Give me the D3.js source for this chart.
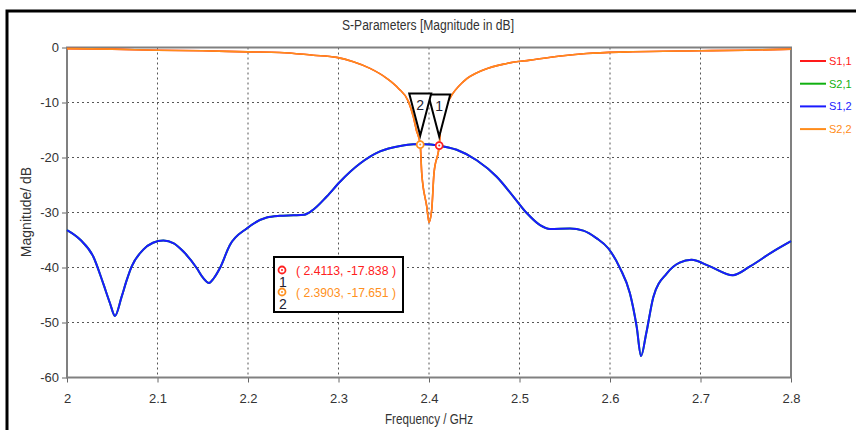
<!DOCTYPE html>
<html>
<head>
<meta charset="utf-8">
<script src="https://cdn.jsdelivr.net/npm/d3@7"></script>
<style>
  body { margin: 0; background: #fff; }
  svg { display: block; }
</style>
</head>
<body>
<svg id="chart"></svg>
<script>
// S1,2 (blue) - S2,1 lies underneath it
const s12Freq = [2.000, 2.015, 2.029, 2.040, 2.0475, 2.053, 2.0604, 2.066, 2.0715, 2.084, 2.095, 2.1065,
  2.118, 2.1286, 2.1433, 2.150, 2.157, 2.162, 2.169, 2.180, 2.1986, 2.2207, 2.235, 2.250, 2.262,
  2.272, 2.287, 2.3017, 2.3238, 2.3459, 2.368, 2.3827, 2.395, 2.410, 2.4306, 2.4527, 2.4748,
  2.4932, 2.508, 2.5227, 2.5337, 2.5558, 2.5705, 2.5853, 2.598, 2.611, 2.622, 2.6295, 2.6343,
  2.640, 2.648, 2.6626, 2.677, 2.690, 2.7105, 2.7356, 2.7547, 2.780, 2.800];
const s12Mag = [-33.2, -35.0, -38.0, -42.9, -46.5, -48.8, -45.3, -42.3, -39.8, -36.8, -35.5, -35.1,
  -35.6, -37.1, -40.1, -41.8, -42.8, -42.0, -40.1, -35.9, -32.9, -30.9, -30.6, -30.5, -30.4,
  -29.5, -27.1, -24.4, -21.1, -18.9, -17.9, -17.6, -17.6, -17.8, -18.6, -20.5, -23.5,
  -27.1, -30.1, -32.3, -33.0, -32.9, -33.3, -34.7, -36.5, -40.1, -44.7, -50.8, -56.1,
  -52.0, -45.3, -41.1, -39.1, -38.6, -39.8, -41.4, -39.8, -37.1, -35.2];

// S2,2 (orange) - S1,1 lies underneath it
const s22Freq = [2.000, 2.050, 2.100, 2.150, 2.200, 2.235, 2.272, 2.298, 2.3164, 2.3348, 2.3533, 2.366,
  2.3772, 2.3827, 2.386, 2.3903, 2.392, 2.3975, 2.400, 2.403, 2.4055, 2.4113, 2.414, 2.4232,
  2.438, 2.460, 2.486, 2.5116, 2.548, 2.574, 2.620, 2.700, 2.750, 2.800];
const s22Mag = [-0.2, -0.3, -0.5, -0.6, -0.8, -0.9, -1.4, -1.8, -2.6, -3.8, -5.6, -7.4,
  -9.8, -12.6, -15.0, -17.651, -22.9, -28.9, -31.8, -29.5, -22.9, -17.838, -12.6, -9.2,
  -6.2, -4.1, -2.9, -2.3, -1.5, -1.1, -0.8, -0.6, -0.5, -0.3];

const legendNames = ["S1,1", "S2,1", "S1,2", "S2,2"];
const legendColors = ["#ff1a1a", "#10b010", "#1a1aff", "#ff8c1a"];

const markerIds = ["1", "2"];
const markerFreq = [2.4113, 2.3903];
const markerMag = [-17.838, -17.651];
const markerColors = ["#ff2020", "#ff9020"];

const xTicks = [2, 2.1, 2.2, 2.3, 2.4, 2.5, 2.6, 2.7, 2.8];
const yTicks = [0, -10, -20, -30, -40, -50, -60];

const W = 856, H = 430;
const margin = {top: 47.5, right: 65, bottom: 52.5, left: 67};
const width = W - margin.left - margin.right,
    height = H - margin.top - margin.bottom;

const svg = d3.select("#chart").attr("width", W).attr("height", H);

// outer black frame (continues past the picture edge)
svg.append("rect")
    .attr("x", 7).attr("y", 11)
    .attr("width", W + 20).attr("height", H + 20)
    .attr("fill", "none").attr("stroke", "#000").attr("stroke-width", 3);

const x = d3.scaleLinear().domain([2, 2.8]).range([0, width]);
const y = d3.scaleLinear().domain([-60, 0]).range([height, 0]);

const g = svg.append("g")
    .attr("transform", "translate(" + margin.left + "," + margin.top + ")");

// dotted grid
g.append("g").selectAll("line")
    .data(xTicks.slice(1, -1))
    .join("line")
    .attr("x1", d => x(d)).attr("x2", d => x(d))
    .attr("y1", 0).attr("y2", height)
    .attr("stroke", "#555").attr("stroke-dasharray", "2,3");
g.append("g").selectAll("line")
    .data(yTicks.slice(1, -1))
    .join("line")
    .attr("x1", 0).attr("x2", width)
    .attr("y1", d => y(d)).attr("y2", d => y(d))
    .attr("stroke", "#555").attr("stroke-dasharray", "2,3");

// axes
const xAxis = g.append("g")
    .attr("transform", "translate(0," + height + ")")
    .call(d3.axisBottom(x).tickValues(xTicks).tickFormat(d => d).tickSize(5).tickPadding(11));
const yAxis = g.append("g")
    .call(d3.axisLeft(y).tickValues(yTicks).tickFormat(d => d).tickSize(5).tickPadding(3));
[xAxis, yAxis].forEach(a => {
  a.select(".domain").remove();
  a.selectAll("line").attr("stroke", "#666");
  a.selectAll("text")
      .attr("fill", "#333")
      .style("font-family", "'Liberation Sans', sans-serif")
      .style("font-size", "13px");
});

// plot frame
g.append("rect")
    .attr("width", width).attr("height", height)
    .attr("fill", "none").attr("stroke", "#808080").attr("stroke-width", 2);

// curves
const line = d3.line()
    .curve(d3.curveMonotoneX)
    .x(d => x(d[0]))
    .y(d => y(d[1]));

const s12 = d3.zip(s12Freq, s12Mag);
const s22 = d3.zip(s22Freq, s22Mag);
const curves = [
  {pts: s22, color: legendColors[0], w: 1.6},  // S1,1 (hidden)
  {pts: s12, color: legendColors[1], w: 2},    // S2,1 (hidden)
  {pts: s12, color: legendColors[2], w: 2},    // S1,2
  {pts: s22, color: legendColors[3], w: 1.6},  // S2,2
];
g.selectAll("path.curve")
    .data(curves)
    .join("path")
    .attr("class", "curve")
    .attr("d", d => line(d.pts))
    .attr("fill", "none")
    .attr("stroke", d => d.color)
    .attr("stroke-width", d => d.w);

// marker triangles and points
markerIds.forEach((id, i) => {
  const mx = x(markerFreq[i]), my = y(markerMag[i]);
  g.append("path")
      .attr("d", "M" + (mx - 11) + "," + (my - 51) + "L" + (mx + 11) + "," + (my - 51) + "L" + mx + "," + (my - 9) + "Z")
      .attr("fill", "#fff").attr("stroke", "#000").attr("stroke-width", 2)
      .attr("stroke-linejoin", "miter");
  g.append("text")
      .attr("x", mx).attr("y", my - 35)
      .attr("text-anchor", "middle")
      .attr("fill", "#223")
      .style("font-family", "'Liberation Sans', sans-serif")
      .style("font-size", "14px")
      .text(id);
});
markerIds.forEach((id, i) => {
  const mx = x(markerFreq[i]), my = y(markerMag[i]);
  g.append("circle").attr("cx", mx).attr("cy", my).attr("r", 3.5)
      .attr("fill", "#fff").attr("stroke", markerColors[i]).attr("stroke-width", 1.8);
  g.append("circle").attr("cx", mx).attr("cy", my).attr("r", 1)
      .attr("fill", markerColors[i]);
});

// marker readout box
const box = svg.append("g").attr("transform", "translate(274,257)");
box.append("rect")
    .attr("width", 129).attr("height", 55)
    .attr("fill", "#fff").attr("stroke", "#000").attr("stroke-width", 2);
markerIds.forEach((id, i) => {
  const cy = 13 + i * 22;
  box.append("circle").attr("cx", 8).attr("cy", cy).attr("r", 3.5)
      .attr("fill", "#fff").attr("stroke", markerColors[i]).attr("stroke-width", 1.8);
  box.append("circle").attr("cx", 8).attr("cy", cy).attr("r", 1).attr("fill", markerColors[i]);
  box.append("text")
      .attr("x", 9).attr("y", cy + 17)
      .attr("text-anchor", "middle")
      .attr("fill", "#223")
      .style("font-family", "'Liberation Sans', sans-serif")
      .style("font-size", "14px")
      .text(id);
  box.append("text")
      .attr("x", 22).attr("y", cy + 5)
      .attr("fill", markerColors[i])
      .style("font-family", "'Liberation Sans', sans-serif")
      .style("font-size", "13px")
      .attr("textLength", 100)
      .attr("lengthAdjust", "spacingAndGlyphs")
      .text("( " + markerFreq[i] + ", " + markerMag[i] + " )");
});

// title and axis labels (narrowed to the reference widths)
svg.append("text")
    .attr("x", 428).attr("y", 30)
    .attr("text-anchor", "middle")
    .attr("fill", "#333")
    .style("font-family", "'Liberation Sans', sans-serif")
    .style("font-size", "14px")
    .attr("textLength", 172)
    .attr("lengthAdjust", "spacingAndGlyphs")
    .text("S-Parameters [Magnitude in dB]");
svg.append("text")
    .attr("x", 429).attr("y", 424)
    .attr("text-anchor", "middle")
    .attr("fill", "#333")
    .style("font-family", "'Liberation Sans', sans-serif")
    .style("font-size", "14px")
    .attr("textLength", 88)
    .attr("lengthAdjust", "spacingAndGlyphs")
    .text("Frequency / GHz");
svg.append("text")
    .attr("transform", "translate(31,212) rotate(-90)")
    .attr("text-anchor", "middle")
    .attr("fill", "#333")
    .style("font-family", "'Liberation Sans', sans-serif")
    .style("font-size", "14px")
    .text("Magnitude/ dB");

// legend (smaller type so the names fit at the right edge)
const legend = svg.append("g").attr("transform", "translate(800,61)");
legendNames.forEach((name, i) => {
  const ly = i * 22.7;
  legend.append("line")
      .attr("x1", 0).attr("x2", 26).attr("y1", ly).attr("y2", ly)
      .attr("stroke", legendColors[i]).attr("stroke-width", 2);
  legend.append("text")
      .attr("x", 29).attr("y", ly + 4)
      .attr("fill", legendColors[i])
      .style("font-family", "'Liberation Sans', sans-serif")
      .style("font-size", "11px")
      .text(name);
});
</script>
</body>
</html>
